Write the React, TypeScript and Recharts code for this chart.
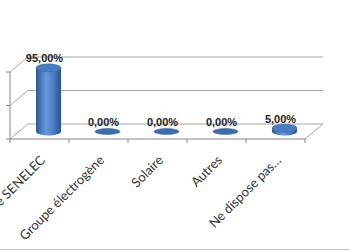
import { Bar, BarChart, CartesianGrid, LabelList, XAxis, YAxis } from 'recharts';

const categories = ['Réseau électrique SENELEC', 'Groupe électrogène', 'Solaire', 'Autres', 'Ne dispose pas…'];
const shares = [0.95, 0, 0, 0, 0.05];
const yTicks = [0, 0.5, 1];

const data = categories.map((name, i) => ({ name, share: shares[i] }));

const W = 350;
const H = 249;
const margin = { top: 72, right: 45, bottom: 0, left: 9 };
const Y_W = 1;
const PLOT_W = W - margin.left - Y_W - margin.right;
const Y_MAX = 1;

// depth of the fake 3d box
const DX = 18;
const DY = -15;

const pct = (v: number) => (v * 100).toFixed(2).replace('.', ',') + '%';

function Cylinder(props: any) {
  const { x, y, width, height } = props;
  const cx = x + width / 2 + DX / 2;
  const rx = width / 2;
  const bottom = y + height + DY / 2;
  const top = y + DY / 2;
  if (height < 1) {
    return <ellipse cx={cx} cy={bottom} rx={rx} ry={3} fill="#3d6cab" stroke="#2e5a94" strokeWidth={0.5} />;
  }
  const ry = 4;
  return (
    <g>
      <path
        d={`M${cx - rx},${top} L${cx - rx},${bottom} A${rx},${ry} 0 0 0 ${cx + rx},${bottom} L${cx + rx},${top} Z`}
        fill="url(#cyl)"
      />
      <ellipse cx={cx} cy={top} rx={rx} ry={ry} fill="#4a7dc0" stroke="#3566a6" strokeWidth={0.5} />
    </g>
  );
}

function TopLabel(props: any) {
  const { x, y, width, value } = props;
  return (
    <text x={x + width / 2 + DX / 2 - 4} y={y + DY / 2 - 5.5} textAnchor="middle"
      fontSize={11} fontWeight="bold" fontFamily="Liberation Sans" fill="#222">
      {pct(value)}
    </text>
  );
}

function XTick(props: any) {
  const { x, y, payload, index, visibleTicksCount } = props;
  const half = payload.offset || PLOT_W / visibleTicksCount / 2;
  const base = y - 8;
  const last = index === visibleTicksCount - 1;
  const tx = x + 6.5;
  const ty = y + 14;
  return (
    <g>
      <line x1={x - half} y1={base} x2={x - half} y2={base + 4} stroke="#868686" />
      {last && <line x1={x + half} y1={base} x2={x + half} y2={base + 4} stroke="#868686" />}
      {last && <line x1={x + half} y1={base} x2={x + half + DX} y2={base + DY} stroke="#a6a6a6" />}
      <text x={tx} y={ty} transform={`rotate(-45, ${tx}, ${ty})`} textAnchor="end"
        fontSize={13} fontFamily="Lato" fill="#333">
        {payload.value}
      </text>
    </g>
  );
}

function YTick(props: any) {
  const { x, y } = props;
  const ax = x + 4;
  return <line x1={ax} y1={y} x2={ax + DX} y2={y + DY} stroke="#a6a6a6" />;
}

// back wall lines: same levels as the y ticks, pushed back by the depth
const backWall = ({ offset }: any) =>
  yTicks.map((t) => offset.top + offset.height * (1 - t / Y_MAX) + DY);

export default function App() {
  return (
    <div style={{ position: 'absolute', left: 0, top: 0, width: W, height: H, borderBottom: '1px solid #c0c0c0' }}>
      <BarChart width={W} height={H} data={data} margin={margin}>
        <defs>
          <linearGradient id="cyl" x1="0" y1="0" x2="1" y2="0">
            <stop offset="0%" stopColor="#2a5794" />
            <stop offset="40%" stopColor="#6699dc" />
            <stop offset="70%" stopColor="#4a7dc2" />
            <stop offset="100%" stopColor="#28538e" />
          </linearGradient>
        </defs>
        <CartesianGrid vertical={false} stroke="#a6a6a6" x={margin.left + Y_W + DX} width={PLOT_W}
          horizontalCoordinatesGenerator={backWall} />
        <XAxis dataKey="name" height={110} interval={0} tickSize={4} tickMargin={4}
          tickLine={false} axisLine={{ stroke: '#868686' }} tick={<XTick />} />
        <YAxis width={Y_W} domain={[0, Y_MAX]} ticks={yTicks} tickSize={4} tickMargin={0}
          tickLine={{ stroke: '#868686' }} axisLine={{ stroke: '#868686' }} tick={<YTick />} />
        <Bar dataKey="share" barSize={25} shape={<Cylinder />} isAnimationActive={false}>
          <LabelList dataKey="share" content={<TopLabel />} />
        </Bar>
      </BarChart>
    </div>
  );
}
